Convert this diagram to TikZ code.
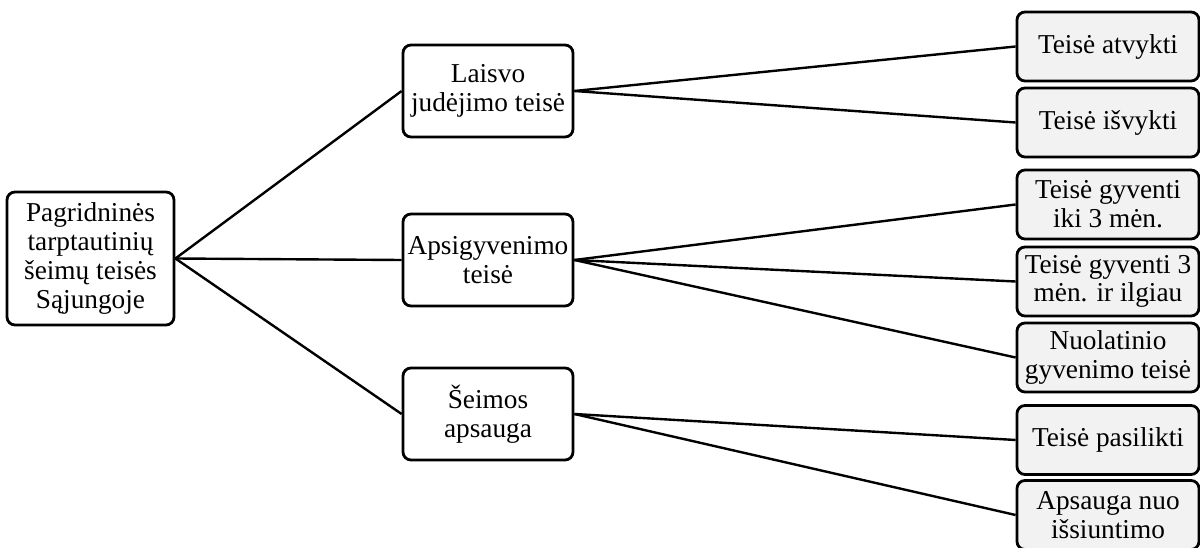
\documentclass[tikz,border=0pt]{standalone}
\usepackage{fontspec}
\setmainfont{Liberation Serif}
\definecolor{boxgray}{HTML}{F2F2F2}
\begin{document}
\begin{tikzpicture}[x=1pt,y=-1pt,
  base/.style={draw=black,line width=2.8pt,rounded corners=8pt,align=center,inner sep=0pt,
    font=\fontsize{27.3}{28.8}\selectfont},
  rootbox/.style={base,fill=white,minimum width=167pt,minimum height=133pt},
  midbox/.style={base,fill=white,minimum width=170pt,minimum height=92pt},
  leafbox/.style={base,fill=boxgray,minimum width=182pt,minimum height=69pt},
  conn/.style={line width=2.4pt}]
\useasboundingbox (0,0) rectangle (1200,548);
\clip (0,0) rectangle (1200,548);
\fill[white] (0,0) rectangle (1200,548);
\node[rootbox] (root) at (90.5,258.5) {Pagridninės\\tarptautinių\\šeimų teisės\\Sąjungoje};
\node[midbox] (m1) at (488,91) {Laisvo\\judėjimo teisė};
\node[midbox] (m2) at (488,260) {Apsigyvenimo\\teisė};
\node[midbox] (m3) at (488,414) {Šeimos\\apsauga};
\node[leafbox] (l1) at (1108,46.5) {Teisė atvykti};
\node[leafbox] (l2) at (1108,122.5) {Teisė išvykti};
\node[leafbox] (l3) at (1108,204.5) {Teisė gyventi\\iki 3 mėn.};
\node[leafbox] (l4) at (1108,281.5) {Teisė gyventi 3\\mėn. ir ilgiau};
\node[leafbox] (l5) at (1108,357.5) {Nuolatinio\\gyvenimo teisė};
\node[leafbox] (l6) at (1108,440) {Teisė pasilikti};
\node[leafbox] (l7) at (1108,515) {Apsauga nuo\\išsiuntimo};
\draw[conn] (root.east) -- (m1.west);
\draw[conn] (root.east) -- (m2.west);
\draw[conn] (root.east) -- (m3.west);
\draw[conn] (m1.east) -- (l1.west);
\draw[conn] (m1.east) -- (l2.west);
\draw[conn] (m2.east) -- (l3.west);
\draw[conn] (m2.east) -- (l4.west);
\draw[conn] (m2.east) -- (l5.west);
\draw[conn] (m3.east) -- (l6.west);
\draw[conn] (m3.east) -- (l7.west);
\end{tikzpicture}
\end{document}
